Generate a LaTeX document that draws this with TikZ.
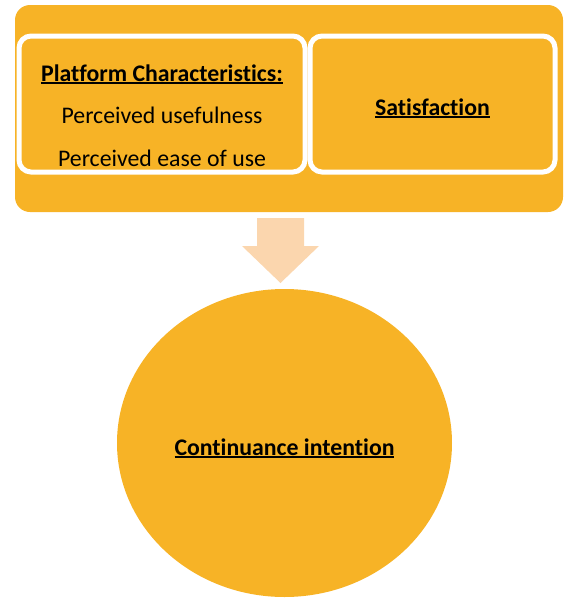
\documentclass[tikz,border=0pt]{standalone}
\usepackage{fontspec}
\setmainfont{Carlito}[Ligatures={NoCommon}]
\usetikzlibrary{shapes.geometric}
\definecolor{boxorange}{HTML}{F7B326}
\definecolor{arrowpeach}{HTML}{FBD6AE}
% underline drawn as a rule just below the baseline
\newcommand{\myul}[1]{\setbox0\hbox{#1}\rlap{\rule[-2.6pt]{\wd0}{1.4pt}}\box0}
\begin{document}
\begin{tikzpicture}[x=1pt,y=-1pt,
  outerbox/.style={fill=boxorange, rounded corners=15pt, draw=none},
  innerbox/.style={fill=boxorange, draw=white, line width=5pt, rounded corners=12pt},
  label/.style={anchor=base, inner sep=0pt, font=\fontsize{23.8}{28}\selectfont},
  heading/.style={label, font=\fontsize{23.8}{28}\selectfont\bfseries}]
  \useasboundingbox (0,0) rectangle (565,598);

  % container with the two factor boxes
  \path[outerbox] (15,5) rectangle (563,212);
  \draw[innerbox] (19,36) rectangle (305,172);
  \draw[innerbox] (310,36) rectangle (555,172);

  \node[heading] (pc) at (162,81) {\myul{Platform Characteristics:}};
  \node[label] (pu) at (162,123) {Perceived usefulness};
  \node[label] (pe) at (162,166) {Perceived ease of use};
  \node[heading] (sat) at (432.5,115) {\myul{Satisfaction}};

  % outcome
  \node[ellipse, fill=boxorange, minimum width=335pt, minimum height=308pt, inner sep=0pt]
    (ci) at (284.5,443) {};
  \node[heading] (citext) at (284.5,455) {\myul{Continuance intention}};

  % block arrow from the container down to the outcome
  \fill[arrowpeach] (257,218) -- (304,218) -- (304,246) -- (319,246)
    -- (280.5,283) -- (242,246) -- (257,246) -- cycle;
\end{tikzpicture}
\end{document}
